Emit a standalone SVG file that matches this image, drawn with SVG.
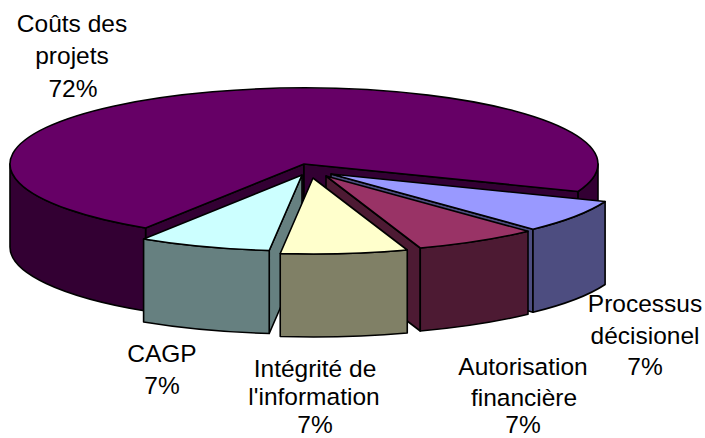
<svg xmlns="http://www.w3.org/2000/svg" width="705" height="438" viewBox="0 0 705 438">
<style>
path{stroke:#000;stroke-width:1.6;stroke-linejoin:round}
.pt{fill:#660066}.ps{fill:#330033}
.bt{fill:#9999FF}.bs{fill:#4D4D80}
.mt{fill:#993366}.ms{fill:#4D1A33}
.yt{fill:#FFFFCC}.ys{fill:#808066}
.ct{fill:#CCFFFF}.cs{fill:#668080}
text{font-family:"Liberation Sans",Arial,sans-serif;font-size:24.5px;fill:#000;text-anchor:middle}
</style>
<rect width="705" height="438" fill="#fff"/>
<g id="slice-couts-projets">
<path class="ps" d="M304,164 L145.6,228.03 L145.6,311.03 L304,247 Z"/>
<path class="ps" d="M304,164 L578.1,191.48 L578.1,274.48 L304,247 Z"/>
<path class="ps" d="M145.6,228.03 A294,76 0 0 1 10,164 L10,247 A294,76 0 0 0 145.6,311.03 Z"/>
<path class="ps" d="M598,164 A294,76 0 0 1 578.1,191.48 L578.1,274.48 A294,76 0 0 0 598,247 Z"/>
<path class="pt" d="M304,164 L145.6,228.03 A294,76 0 1 1 578.1,191.48 Z"/>
<text x="72" y="32">Coûts des</text>
<text x="72" y="64">projets</text>
<text x="73" y="97">72%</text>
</g>
<g id="slice-processus-decisionel">
<path class="bs" d="M331,174 L533,229.22 L533,312.22 L331,257 Z"/>
<path class="bs" d="M605.1,201.48 A294,76 0 0 1 533,229.22 L533,312.22 A294,76 0 0 0 605.1,284.48 Z"/>
<path class="bt" d="M331,174 L605.1,201.48 A294,76 0 0 1 533,229.22 Z"/>
<text x="645" y="312">Processus</text>
<text x="645" y="344">décisionel</text>
<text x="645" y="375">7%</text>
</g>
<g id="slice-autorisation-financiere">
<path class="ms" d="M326,176 L420.26,247.99 L420.26,330.99 L326,259 Z"/>
<path class="ms" d="M528,231.22 A294,76 0 0 1 420.26,247.99 L420.26,330.99 A294,76 0 0 0 528,314.22 Z"/>
<path class="mt" d="M326,176 L528,231.22 A294,76 0 0 1 420.26,247.99 Z"/>
<text x="523" y="375">Autorisation</text>
<text x="524" y="406">financière</text>
<text x="523" y="433">7%</text>
</g>
<g id="slice-cagp">
<path class="cs" d="M302,175 L269.23,250.53 L269.23,333.53 L302,258 Z"/>
<path class="cs" d="M269.23,250.53 A294,76 0 0 1 143.6,239.03 L143.6,322.03 A294,76 0 0 0 269.23,333.53 Z"/>
<path class="ct" d="M302,175 L269.23,250.53 A294,76 0 0 1 143.6,239.03 Z"/>
<text x="162" y="362">CAGP</text>
<text x="162" y="394">7%</text>
</g>
<g id="slice-integrite-information">
<path class="ys" d="M407.26,249.99 A294,76 0 0 1 280.23,253.53 L280.23,336.53 A294,76 0 0 0 407.26,332.99 Z"/>
<path class="yt" d="M313,178 L407.26,249.99 A294,76 0 0 1 280.23,253.53 Z"/>
<text x="315" y="377">Intégrité de</text>
<text x="314" y="405">l'information</text>
<text x="315" y="433">7%</text>
</g>
<g id="connectors"/>
</svg>
